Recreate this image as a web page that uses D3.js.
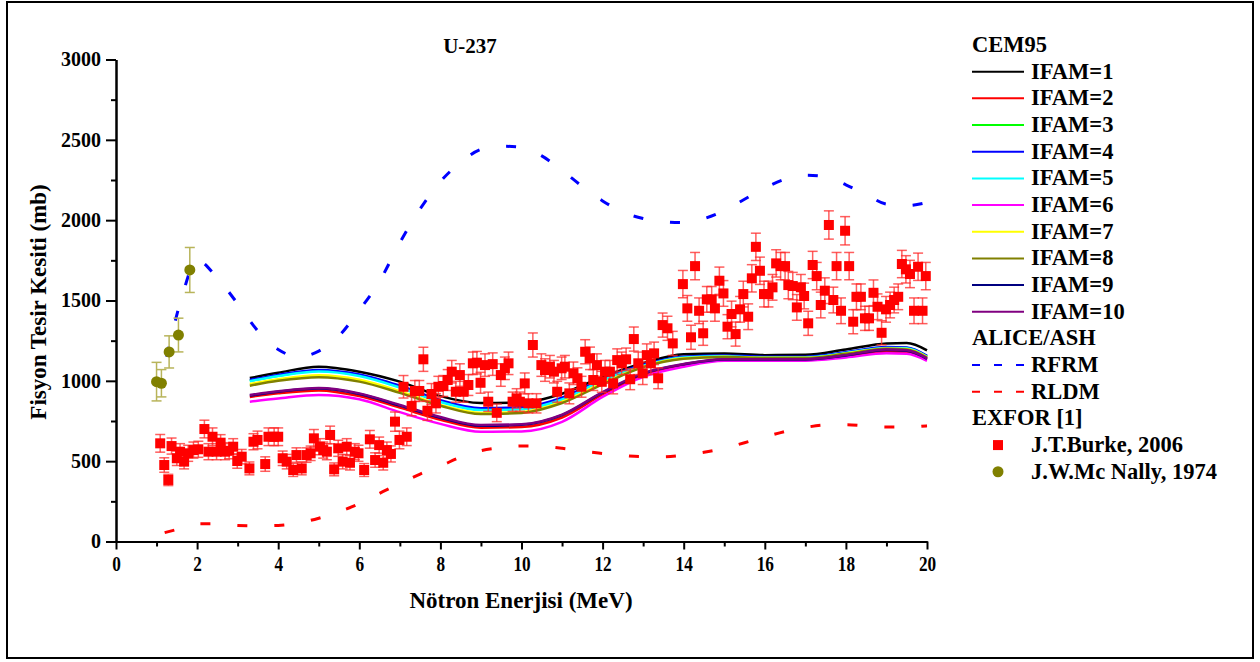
<!DOCTYPE html>
<html>
<head>
<meta charset="utf-8">
<script src="https://cdn.jsdelivr.net/npm/d3@7"></script>
<style>
	body { margin: 0; background: #fff; }
	text { font-family: "Liberation Serif", "Times New Roman", serif; font-weight: bold; }
</style>
</head>
<body>
<div id="chart"></div>
<script>
// CEM95 energy grid (MeV) and cross sections (mb) for each IFAM option
const cemEnergy = [3.3, 4, 5, 6, 7, 8, 9, 10, 11, 12, 13, 14, 15, 16, 17, 18, 19, 19.5, 20]
const ifam1 = [1017, 1050, 1088, 1057, 995, 905, 862, 865, 920, 1025, 1110, 1165, 1170, 1160, 1162, 1195, 1232, 1235, 1190]
const ifam2 = [900, 922, 940, 905, 833, 758, 708, 713, 772, 915, 1035, 1098, 1130, 1130, 1130, 1153, 1183, 1178, 1133]
const ifam3 = [1000, 1032, 1062, 1034, 963, 873, 823, 828, 888, 1006, 1096, 1147, 1155, 1147, 1147, 1175, 1207, 1205, 1152]
const ifam4 = [1005, 1037, 1068, 1040, 970, 880, 830, 835, 895, 1012, 1100, 1150, 1158, 1150, 1150, 1178, 1210, 1208, 1155]
const ifam5 = [998, 1030, 1058, 1030, 958, 868, 818, 823, 884, 1003, 1094, 1145, 1153, 1145, 1145, 1173, 1205, 1203, 1150]
const ifam6 = [870, 890, 912, 885, 805, 732, 683, 685, 745, 900, 1025, 1088, 1125, 1125, 1125, 1145, 1172, 1168, 1125]
const ifam7 = [980, 1010, 1035, 1007, 936, 850, 800, 806, 870, 985, 1088, 1140, 1150, 1143, 1143, 1170, 1202, 1198, 1148]
const ifam8 = [970, 1000, 1023, 995, 925, 845, 793, 800, 862, 978, 1085, 1137, 1148, 1142, 1142, 1168, 1200, 1195, 1145]
const ifam9 = [908, 932, 952, 918, 846, 770, 720, 727, 787, 926, 1045, 1103, 1133, 1133, 1133, 1158, 1192, 1187, 1137]
const ifam10 = [912, 935, 955, 922, 850, 775, 725, 730, 790, 930, 1048, 1105, 1135, 1135, 1135, 1160, 1195, 1190, 1140]

const cemNames = ["IFAM=1", "IFAM=2", "IFAM=3", "IFAM=4", "IFAM=5", "IFAM=6", "IFAM=7", "IFAM=8", "IFAM=9", "IFAM=10"]
const cemColors = ["#000000", "#ff0000", "#00ff00", "#0000ff", "#00ffff", "#ff00ff", "#ffff00", "#808000", "#000080", "#800080"]
const cemSeries = [ifam1, ifam2, ifam3, ifam4, ifam5, ifam6, ifam7, ifam8, ifam9, ifam10]

// ALICE/ASH curves [E, sigma]
const rfrm = [
	[1.25, 1150], [1.6, 1500], [2.0, 1750], [2.5, 1640], [3.0, 1480], [3.5, 1310], [4.0, 1195], [4.5, 1150],
	[5.0, 1185], [5.5, 1280], [6.0, 1440], [6.5, 1620], [7.0, 1860], [7.5, 2070], [8.0, 2240], [8.5, 2360],
	[9.0, 2440], [9.5, 2460], [10.0, 2455], [10.5, 2400], [11.0, 2310], [11.5, 2210], [12.0, 2120],
	[12.5, 2050], [13.0, 2010], [13.5, 1990], [14.0, 1985], [14.5, 2010], [15.0, 2060], [15.5, 2130],
	[16.0, 2200], [16.5, 2255], [17.0, 2280], [17.5, 2270], [18.0, 2220], [18.5, 2160], [19.0, 2100],
	[19.5, 2090], [20.0, 2110]
]
const rldm = [
	[1.2, 55], [1.5, 75], [2.0, 110], [2.5, 110], [3.0, 100], [3.5, 98], [4.0, 100], [4.5, 115], [5.0, 145],
	[5.5, 185], [6.0, 235], [6.5, 300], [7.0, 360], [7.5, 420], [8.0, 470], [8.5, 525], [9.0, 565],
	[9.5, 585], [10.0, 595], [10.5, 592], [11.0, 580], [11.5, 562], [12.0, 548], [12.5, 535], [13.0, 528],
	[13.5, 528], [14.0, 538], [14.5, 555], [15.0, 580], [15.5, 615], [16.0, 650], [16.5, 685], [17.0, 710],
	[17.5, 725], [18.0, 727], [18.5, 720], [19.0, 712], [19.5, 712], [20.0, 720]
]

// EXFOR data [E, sigma, error]
const burke = [
	[1.09, 611, 55], [1.19, 476, 45], [1.29, 383, 35], [1.37, 594, 50], [1.50, 518, 45], [1.58, 559, 50],
	[1.68, 497, 45], [1.78, 549, 50], [1.91, 569, 50], [2.03, 574, 50], [2.18, 700, 55], [2.28, 559, 50],
	[2.38, 652, 55], [2.48, 559, 50], [2.58, 615, 50], [2.69, 559, 50], [2.79, 565, 50], [2.89, 590, 50],
	[2.99, 501, 45], [3.10, 528, 45], [3.29, 455, 40], [3.39, 621, 50], [3.49, 632, 55], [3.68, 482, 45],
	[3.76, 652, 55], [3.90, 652, 55], [4.00, 652, 55], [4.11, 518, 45], [4.21, 497, 45], [4.37, 445, 40],
	[4.45, 538, 45], [4.58, 455, 40], [4.70, 538, 45], [4.80, 549, 45], [4.88, 642, 55], [5.03, 590, 50],
	[5.11, 569, 50], [5.20, 559, 50], [5.28, 663, 55], [5.38, 449, 40], [5.48, 580, 50], [5.59, 497, 45],
	[5.69, 590, 50], [5.77, 490, 45], [5.89, 559, 50], [5.98, 549, 50], [6.12, 445, 40], [6.26, 636, 55],
	[6.39, 507, 45], [6.49, 600, 50], [6.59, 490, 45], [6.68, 569, 50], [6.78, 545, 50], [6.88, 746, 60],
	[6.99, 632, 55], [7.09, 963, 70], [7.17, 652, 55], [7.29, 843, 60], [7.37, 937, 65], [7.48, 937, 65],
	[7.58, 1134, 75], [7.68, 814, 60], [7.78, 918, 65], [7.89, 860, 60], [7.95, 963, 65], [8.07, 968, 65],
	[8.18, 1005, 65], [8.28, 1057, 70], [8.38, 932, 65], [8.48, 1036, 70], [8.57, 932, 65], [8.69, 974, 65],
	[8.80, 1109, 70], [8.90, 1113, 70], [8.99, 988, 65], [9.10, 1098, 70], [9.18, 870, 60], [9.29, 1104, 70],
	[9.39, 801, 55], [9.49, 1036, 70], [9.59, 1078, 70], [9.68, 1109, 70], [9.78, 870, 60], [9.88, 891, 60],
	[9.96, 870, 60], [10.08, 984, 65], [10.17, 860, 60], [10.28, 1223, 75], [10.37, 860, 60], [10.49, 1098, 70],
	[10.58, 1067, 70], [10.70, 1088, 70], [10.80, 1057, 70], [10.88, 932, 65], [10.99, 1078, 70], [11.07, 1088, 70],
	[11.18, 922, 65], [11.28, 1047, 70], [11.38, 1016, 65], [11.48, 963, 65], [11.57, 1181, 75], [11.69, 1140, 70],
	[11.77, 1005, 65], [11.86, 1098, 70], [11.98, 994, 65], [12.06, 1057, 70], [12.18, 1057, 70], [12.26, 984, 65],
	[12.36, 1129, 70], [12.47, 1109, 70], [12.58, 1134, 70], [12.68, 1010, 65], [12.77, 1260, 75], [12.88, 1109, 70],
	[12.99, 1047, 70], [13.09, 1160, 70], [13.19, 1109, 70], [13.27, 1171, 70], [13.37, 1016, 65], [13.48, 1347, 75],
	[13.60, 1327, 75], [13.73, 1233, 75], [13.98, 1602, 85], [14.09, 1451, 80], [14.18, 1271, 75], [14.28, 1714, 85],
	[14.38, 1436, 80], [14.48, 1296, 75], [14.57, 1507, 80], [14.69, 1507, 80], [14.77, 1451, 80], [14.88, 1623, 85],
	[14.98, 1544, 80], [15.08, 1337, 75], [15.18, 1416, 80], [15.28, 1291, 75], [15.39, 1445, 80], [15.47, 1540, 80],
	[15.59, 1399, 80], [15.68, 1638, 85], [15.78, 1834, 85], [15.88, 1685, 85], [15.98, 1540, 80], [16.09, 1540, 80],
	[16.19, 1582, 80], [16.28, 1731, 85], [16.39, 1714, 85], [16.50, 1714, 85], [16.58, 1596, 85], [16.69, 1590, 85],
	[16.79, 1457, 80], [16.89, 1582, 80], [16.97, 1528, 80], [17.07, 1358, 75], [17.18, 1721, 85], [17.28, 1652, 85],
	[17.38, 1472, 80], [17.48, 1561, 80], [17.58, 1970, 88], [17.69, 1503, 80], [17.77, 1714, 85], [17.88, 1436, 80],
	[17.98, 1934, 88], [18.08, 1714, 85], [18.18, 1368, 75], [18.26, 1523, 80], [18.37, 1523, 80], [18.47, 1389, 75],
	[18.57, 1389, 75], [18.68, 1548, 80], [18.78, 1461, 80], [18.88, 1299, 75], [18.99, 1445, 80], [19.09, 1472, 80],
	[19.19, 1503, 80], [19.29, 1523, 80], [19.38, 1727, 85], [19.48, 1694, 85], [19.58, 1665, 85], [19.68, 1436, 80],
	[19.78, 1710, 85], [19.89, 1436, 80], [19.97, 1652, 85]
]
const mcNally = [[1.0, 995, 120], [1.12, 985, 85], [1.31, 1180, 100], [1.54, 1285, 105], [1.82, 1690, 140]]

const xTicks = [0, 2, 4, 6, 8, 10, 12, 14, 16, 18, 20]
const yTicks = [0, 500, 1000, 1500, 2000, 2500, 3000]

const W = 1260, H = 662

const svg = d3.select("#chart").append("svg")
	.attr("width", W)
	.attr("height", H)

// outer frame
svg.append("rect")
	.attr("x", 7).attr("y", 2)
	.attr("width", 1246).attr("height", 656)
	.attr("fill", "none")
	.attr("stroke", "#000")
	.attr("stroke-width", 2)

const x = d3.scaleLinear().domain([0, 20]).range([116, 927])
const y = d3.scaleLinear().domain([0, 3000]).range([541.5, 59.5])

// axes
svg.append("g").attr("transform", `translate(0,${y(0)})`)
	.call(d3.axisBottom(x).tickValues(d3.range(1, 20, 2)).tickSize(5).tickSizeOuter(0).tickFormat(""))
const xAxis = svg.append("g").attr("transform", `translate(0,${y(0)})`)
	.call(d3.axisBottom(x).tickValues(xTicks).tickSize(8).tickPadding(7).tickSizeOuter(0))
svg.append("g").attr("transform", `translate(${x(0)},0)`)
	.call(d3.axisLeft(y).tickValues(d3.range(250, 3000, 500)).tickSize(5).tickSizeOuter(0).tickFormat(""))
const yAxis = svg.append("g").attr("transform", `translate(${x(0)},0)`)
	.call(d3.axisLeft(y).tickValues(yTicks).tickSize(10).tickPadding(5).tickSizeOuter(0)
		.tickFormat(d3.format("d")))

svg.selectAll(".domain, .tick line").attr("stroke", "#000").attr("stroke-width", 2)
xAxis.attr("font-family", null).attr("font-size", 21)
yAxis.attr("font-family", null).attr("font-size", 20)
xAxis.selectAll("text").attr("fill", "#000").attr("transform", "scale(0.82,1)")
yAxis.selectAll("text").attr("fill", "#000")

// titles
svg.append("text").attr("x", 470).attr("y", 53)
	.attr("text-anchor", "middle").attr("font-size", 21).text("U-237")
svg.append("text").attr("x", 521).attr("y", 608)
	.attr("text-anchor", "middle").attr("font-size", 23).text("Nötron Enerjisi (MeV)")
svg.append("text").attr("transform", "translate(46,302) rotate(-90)")
	.attr("text-anchor", "middle").attr("font-size", 23).text("Fisyon Tesir Kesiti (mb)")

// ALICE/ASH dashed curves
const line = d3.line().x((d) => x(d[0])).y((d) => y(d[1])).curve(d3.curveMonotoneX)
svg.append("path").datum(rfrm).attr("d", line)
	.attr("fill", "none").attr("stroke", "#0000ff").attr("stroke-width", 3)
	.attr("stroke-dasharray", "10,27")
svg.append("path").datum(rldm).attr("d", line)
	.attr("fill", "none").attr("stroke", "#ff0000").attr("stroke-width", 3)
	.attr("stroke-dasharray", "10,27")

// CEM95 curves
cemSeries.forEach((vals, i) => {
	const pts = cemEnergy.map((e, j) => [e, vals[j]])
	svg.append("path").datum(pts).attr("d", line)
		.attr("fill", "none").attr("stroke", cemColors[i]).attr("stroke-width", 2.5)
})

// error bars helper
function errorBars(data, color) {
	const g = svg.append("g").attr("stroke", color).attr("stroke-width", 1.5)
	data.forEach((d) => {
		const cx = x(d[0]), top = y(d[1] + d[2]), bot = y(d[1] - d[2])
		g.append("line").attr("x1", cx).attr("x2", cx).attr("y1", top).attr("y2", bot)
		g.append("line").attr("x1", cx - 5).attr("x2", cx + 5).attr("y1", top).attr("y2", top)
		g.append("line").attr("x1", cx - 5).attr("x2", cx + 5).attr("y1", bot).attr("y2", bot)
	})
}

errorBars(burke, "rgba(255,40,40,0.75)")
svg.append("g").selectAll("rect").data(burke).enter().append("rect")
	.attr("x", (d) => x(d[0]) - 5).attr("y", (d) => y(d[1]) - 5)
	.attr("width", 10).attr("height", 10).attr("fill", "#ff0000")

errorBars(mcNally, "#b8b45a")
svg.append("g").selectAll("circle").data(mcNally).enter().append("circle")
	.attr("cx", (d) => x(d[0])).attr("cy", (d) => y(d[1])).attr("r", 5.5)
	.attr("fill", "#808000")

// legend
const legend = svg.append("g").attr("font-size", 22.5)
const rowH = 26.67
const rowY = (i) => 71.7 + i * rowH
legend.append("text").attr("x", 972).attr("y", 52).text("CEM95")
cemNames.forEach((name, i) => {
	legend.append("line").attr("x1", 972).attr("x2", 1024).attr("y1", rowY(i)).attr("y2", rowY(i))
		.attr("stroke", cemColors[i]).attr("stroke-width", 2)
	legend.append("text").attr("x", 1031).attr("y", rowY(i) + 7).text(name)
})
legend.append("text").attr("x", 972).attr("y", rowY(10) + 7).text("ALICE/ASH")
;[["RFRM", "#0000ff"], ["RLDM", "#ff0000"]].forEach(([name, c], k) => {
	const yy = rowY(11 + k)
	legend.append("line").attr("x1", 972).attr("x2", 1024).attr("y1", yy).attr("y2", yy)
		.attr("stroke", c).attr("stroke-width", 2).attr("stroke-dasharray", "8,14")
	legend.append("text").attr("x", 1031).attr("y", yy + 7).text(name)
})
legend.append("text").attr("x", 972).attr("y", rowY(13) + 7).text("EXFOR [1]")
legend.append("rect").attr("x", 993).attr("y", rowY(14) - 5).attr("width", 10).attr("height", 10)
	.attr("fill", "#ff0000")
legend.append("text").attr("x", 1031).attr("y", rowY(14) + 7).text("J.T.Burke, 2006")
legend.append("circle").attr("cx", 998).attr("cy", rowY(15)).attr("r", 5.5).attr("fill", "#808000")
legend.append("text").attr("x", 1031).attr("y", rowY(15) + 7).text("J.W.Mc Nally, 1974")
</script>
</body>
</html>
